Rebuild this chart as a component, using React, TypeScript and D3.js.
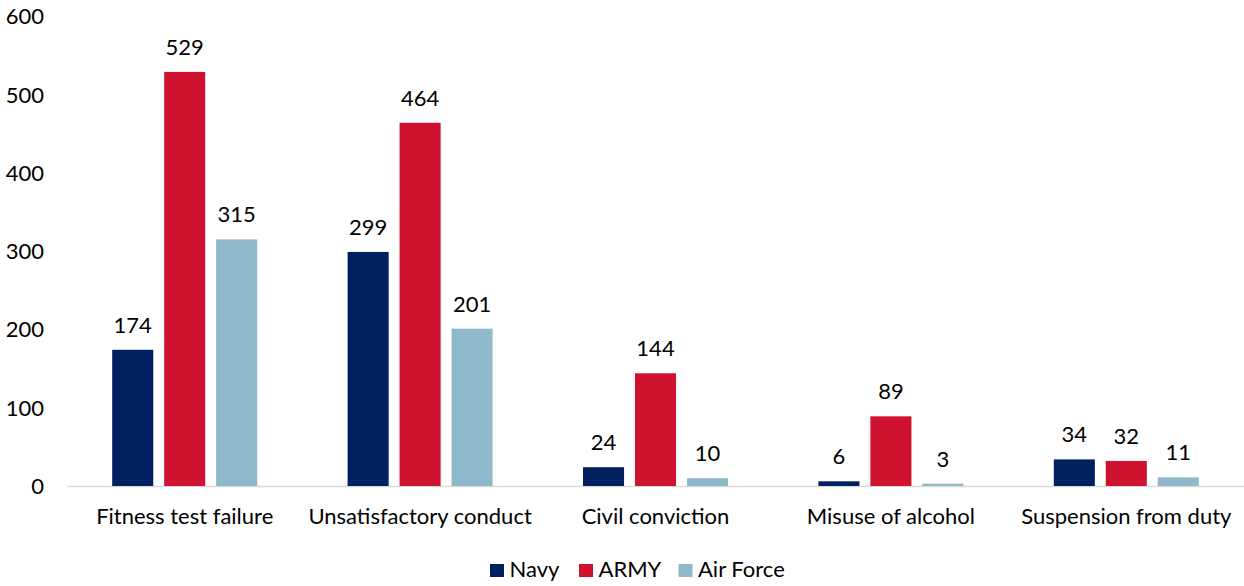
import React from "react";
import * as d3 from "d3";

const categories = [
  "Fitness test failure",
  "Unsatisfactory conduct",
  "Civil conviction",
  "Misuse of alcohol",
  "Suspension from duty",
];
const seriesNames = ["Navy", "ARMY", "Air Force"];
const navy = [174, 299, 24, 6, 34];
const army = [529, 464, 144, 89, 32];
const airForce = [315, 201, 10, 3, 11];
const yTicks = [0, 100, 200, 300, 400, 500, 600];
const colors = ["#002060", "#CE1230", "#8FB8CA"];

const W = 1244;
const H = 586;
const FONT = "Lato, 'Open Sans', sans-serif";
const FS = 22;

export default function App() {
  const values = [navy, army, airForce];
  const x0 = d3.scaleBand<string>().domain(categories).range([67, 1244]).paddingInner(0).paddingOuter(0);
  const x1 = d3.scaleBand<string>().domain(seriesNames).range([-72.5, 72.5]).paddingInner(0.21).paddingOuter(0);
  const y = d3.scaleLinear().domain([0, 600]).range([486, 16.3]);

  const legendX = [490, 579, 678.5];

  return (
    <svg width={W} height={H} style={{ position: "absolute", left: 0, top: 0, background: "#fff" }} fontFamily={FONT}>
      {yTicks.map((t) => (
        <text key={t} x={44} y={y(t) + 8} textAnchor="end" fontSize={FS} fill="#000">
          {t}
        </text>
      ))}
      <line x1={67} x2={1244} y1={y(0) + 0.5} y2={y(0) + 0.5} stroke="#D9D9D9" strokeWidth={1.5} />
      {categories.map((c, i) => {
        const cx = (x0(c) ?? 0) + x0.bandwidth() / 2;
        return (
          <g key={c}>
            {seriesNames.map((s, j) => {
              const v = values[j][i];
              const bx = cx + (x1(s) ?? 0);
              return (
                <g key={s}>
                  <rect x={bx} y={y(v)} width={x1.bandwidth()} height={y(0) - y(v)} fill={colors[j]} />
                  <text x={bx + x1.bandwidth() / 2} y={y(v) - 17} textAnchor="middle" fontSize={FS} fill="#000">
                    {v}
                  </text>
                </g>
              );
            })}
            <text x={cx} y={524} textAnchor="middle" fontSize={FS} fill="#000">
              {c}
            </text>
          </g>
        );
      })}
      {seriesNames.map((s, j) => (
        <g key={s}>
          <rect x={legendX[j]} y={564} width={14} height={13} fill={colors[j]} />
          <text x={legendX[j] + 19.5} y={577.3} fontSize={FS} fill="#000">
            {s}
          </text>
        </g>
      ))}
    </svg>
  );
}
